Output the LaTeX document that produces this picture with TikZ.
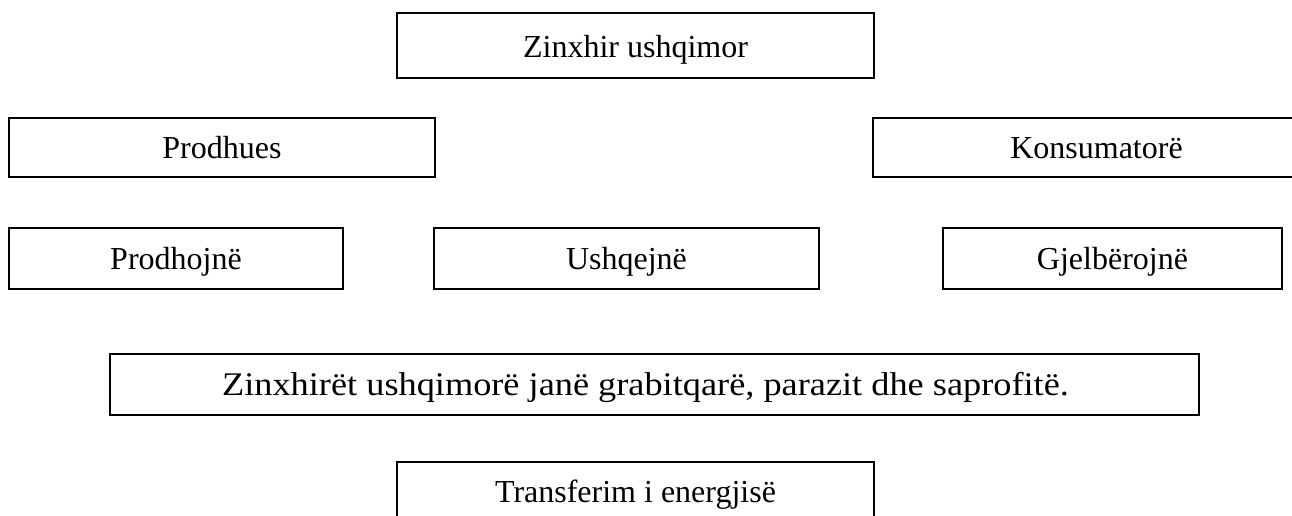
\documentclass[tikz,border=0pt]{standalone}
\usepackage{graphicx}
\usepackage{fontspec}
\setmainfont{Liberation Serif}
\begin{document}
\begin{tikzpicture}[x=1pt,y=-1pt,
  box/.style={draw, line width=1.6pt, inner sep=0pt,
    font=\fontsize{32}{38}\selectfont, text height=22pt, text depth=1pt}]
\useasboundingbox (0,0) rectangle (1292,515);
\node[box, minimum width=477pt, minimum height=65pt, text height=25pt] (zinx) at (635.5,45.5) {Zinxhir ushqimor};
\node[box, minimum width=426pt, minimum height=59pt] (prod) at (222,147.5) {Prodhues};
\node[box, minimum width=447pt, minimum height=59pt] (kons) at (1096.5,147.5) {Konsumatorë};
\node[box, minimum width=334pt, minimum height=61pt] (prodh) at (176,258.5) {Prodhojnë};
\node[box, minimum width=385pt, minimum height=61pt] (ushq) at (626.5,258.5) {Ushqejnë};
\node[box, minimum width=339pt, minimum height=61pt] (gjel) at (1112.5,258.5) {Gjelbërojnë};
\node[box, minimum width=1089pt, minimum height=61pt, font=\fontsize{33}{40}\selectfont] (wide) at (654.5,384.5) {\hspace*{-18pt}\scalebox{1.1}[1]{Zinxhirët ushqimorë janë grabitqarë, parazit dhe saprofitë.}};
\node[box, minimum width=477pt, minimum height=78pt, text height=12pt, text depth=10pt] (trans) at (635.5,501) {Transferim i energjisë};
\end{tikzpicture}
\end{document}
